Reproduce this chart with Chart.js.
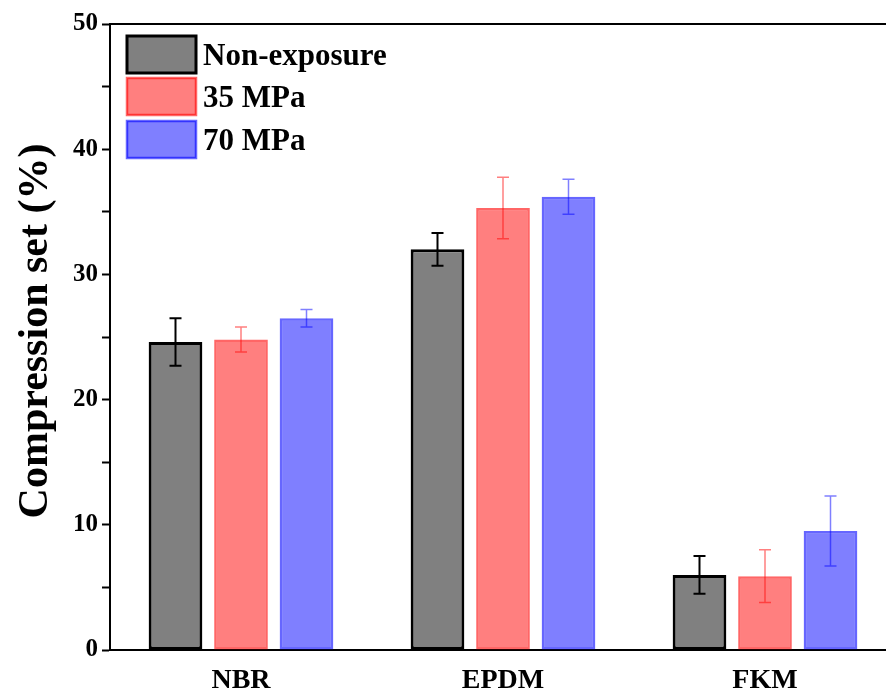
<!DOCTYPE html>
<html>
<head>
<meta charset="utf-8">
<script src="https://cdn.jsdelivr.net/npm/chart.js@4.4.1/dist/chart.umd.min.js"></script>
<style>
  html, body { margin: 0; padding: 0; background: #fff; overflow: hidden; }
  #wrap { width: 886px; height: 690px; overflow: hidden; }
</style>
</head>
<body>
<div id="wrap"><canvas id="chart" width="896" height="690"></canvas></div>
<script>
// Datos
const categories = ["NBR", "EPDM", "FKM"];
const seriesNames = ["Non-exposure", "35 MPa", "70 MPa"];
const nonExposure = [24.6, 32.0, 6.0];
const nonExposureErr = [1.9, 1.3, 1.5];
const mpa35 = [24.8, 35.3, 5.9];
const mpa35Err = [1.0, 2.45, 2.1];
const mpa70 = [26.5, 36.2, 9.5];
const mpa70Err = [0.7, 1.4, 2.8];
const yTicks = [0, 10, 20, 30, 40, 50];

const FONT = "'Liberation Serif', 'Times New Roman', serif";

// Barras de error dibujadas con la escala Y
const errorBars = {
  id: "errorBars",
  afterDatasetsDraw(chart) {
    const ctx = chart.ctx;
    const y = chart.scales.y;
    chart.data.datasets.forEach((ds, i) => {
      const meta = chart.getDatasetMeta(i);
      meta.data.forEach((bar, j) => {
        const v = ds.data[j], e = ds.errors[j];
        const top = y.getPixelForValue(v + e);
        const bot = y.getPixelForValue(v - e);
        ctx.save();
        ctx.strokeStyle = ds.errorColor;
        ctx.lineWidth = ds.errorWidth;
        ctx.beginPath();
        ctx.moveTo(bar.x, top); ctx.lineTo(bar.x, bot);
        ctx.moveTo(bar.x - 6, top); ctx.lineTo(bar.x + 6, top);
        ctx.moveTo(bar.x - 6, bot); ctx.lineTo(bar.x + 6, bot);
        ctx.stroke();
        ctx.restore();
      });
    });
  }
};

// Leyenda dentro del area, linea superior y titulo del eje Y
const decorations = {
  id: "decorations",
  afterDraw(chart) {
    const ctx = chart.ctx;
    const area = chart.chartArea;
    ctx.save();
    ctx.strokeStyle = "#000";
    ctx.lineWidth = 2;
    ctx.beginPath();
    ctx.moveTo(area.left - 1, area.top);
    ctx.lineTo(area.right, area.top);
    ctx.stroke();

    const rows = [36, 78, 121];
    chart.data.datasets.forEach((ds, i) => {
      const bx = 127, by = rows[i], bw = 69, bh = 37;
      ctx.fillStyle = ds.backgroundColor;
      ctx.fillRect(bx, by, bw, bh);
      ctx.strokeStyle = ds.borderColor;
      ctx.lineWidth = ds.borderWidth;
      ctx.strokeRect(bx, by, bw, bh);
      ctx.fillStyle = "#000";
      ctx.font = "bold 31px " + FONT;
      ctx.textBaseline = "middle";
      ctx.textAlign = "left";
      ctx.fillText(ds.label, 203, by + bh / 2 + 2);
    });

    ctx.translate(36, 331);
    ctx.rotate(-Math.PI / 2);
    ctx.font = "bold 42px " + FONT;
    ctx.textAlign = "center";
    ctx.textBaseline = "middle";
    ctx.fillStyle = "#000";
    ctx.fillText("Compression set (%)", 0, 0);
    ctx.restore();
  }
};

new Chart(document.getElementById("chart"), {
  type: "bar",
  data: {
    labels: categories,
    datasets: [{
      label: seriesNames[0], data: nonExposure, errors: nonExposureErr,
      backgroundColor: "#808080", borderColor: "#000", borderWidth: 3,
      errorColor: "#000", errorWidth: 2
    }, {
      label: seriesNames[1], data: mpa35, errors: mpa35Err,
      backgroundColor: "rgba(255, 0, 0, 0.5)", borderColor: "rgba(255, 0, 0, 0.6)", borderWidth: 2.5,
      errorColor: "rgba(255, 0, 0, 0.5)", errorWidth: 1.5
    }, {
      label: seriesNames[2], data: mpa70, errors: mpa70Err,
      backgroundColor: "rgba(0, 0, 255, 0.5)", borderColor: "rgba(0, 0, 255, 0.6)", borderWidth: 2.5,
      errorColor: "rgba(0, 0, 255, 0.5)", errorWidth: 1.5
    }]
  },
  options: {
    responsive: false, animation: false, devicePixelRatio: 1,
    barPercentage: 0.82, categoryPercentage: 0.75,
    borderSkipped: false,
    layout: {padding: {top: 24, right: 0, left: 0, bottom: 0}},
    plugins: {legend: {display: false}, tooltip: {enabled: false}},
    scales: {
      x: {
        grid: {display: false},
        border: {display: true, color: "#000", width: 2},
        ticks: {color: "#000", font: {family: FONT, size: 28, weight: "bold"}, padding: 6},
        afterFit(scale) { scale.height = 40; }
      },
      y: {
        min: 0, max: 50,
        grid: {drawOnChartArea: false, drawTicks: true, tickLength: 8, tickColor: "#000", tickWidth: 2},
        border: {display: true, color: "#000", width: 2},
        ticks: {
          stepSize: 5, color: "#000", padding: 4,
          font: {family: FONT, size: 25, weight: "bold"},
          callback: v => yTicks.includes(v) ? v : ""
        },
        afterFit(scale) { scale.width = 110; }
      }
    }
  },
  plugins: [errorBars, decorations]
});
</script>
</body>
</html>
